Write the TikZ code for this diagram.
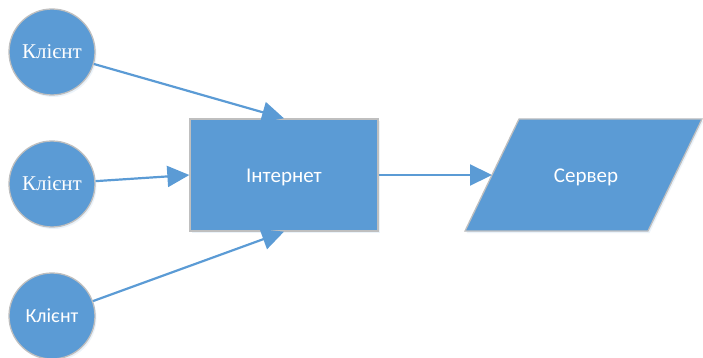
\documentclass[tikz,border=0pt]{standalone}
\usepackage{fontspec}
\setmainfont{Liberation Serif}
\newfontfamily\carlito{Carlito}
\usetikzlibrary{arrows.meta,shadows}
\definecolor{fillblue}{HTML}{5B9BD5}
\definecolor{edgegray}{HTML}{BFBFBF}
\tikzset{
  x=1pt, y=-1pt,
  shape base/.style={fill=fillblue, draw=edgegray, line width=1.3pt,
    drop shadow={shadow xshift=1.5pt, shadow yshift=-2pt, opacity=0.12, fill=fillblue}},
  client/.style={shape base, circle, minimum size=86pt, inner sep=0pt, text=white},
  hub/.style={shape base, rectangle, minimum width=188pt, minimum height=112pt, inner sep=0pt},
  label/.style={text=white, inner sep=0pt, font=\carlito\fontsize{21}{24}\selectfont},
  link/.style={draw=fillblue, line width=2.2pt, -{Triangle[length=22pt,width=21pt]}}
}
\begin{document}
\begin{tikzpicture}
\useasboundingbox (0,0) rectangle (703,358);
\node[client, font=\fontsize{21}{24}\selectfont] (c1) at (52,52) {Клієнт};
\node[client, font=\fontsize{21}{24}\selectfont] (c2) at (52,184) {Клієнт};
\node[client, font=\carlito\fontsize{20}{24}\selectfont] (c3) at (52,316) {Клієнт};
\node[hub] (net) at (284,175) {};
\node[label] (nettext) at (284,177) {Інтернет};
% server: parallelogram leaning to the right
\path[shape base] (465,231) -- (519,119) -- (702,119) -- (648,231) -- cycle;
\coordinate (srvw) at (492,175);
\node[label] (srv) at (586,177) {Сервер};
\draw[link] (c1) -- (net.north);
\draw[link] (c2) -- (net.west);
\draw[link] (c3) -- (net.south);
\draw[link] (net.east) -- (srvw);
\end{tikzpicture}
\end{document}
